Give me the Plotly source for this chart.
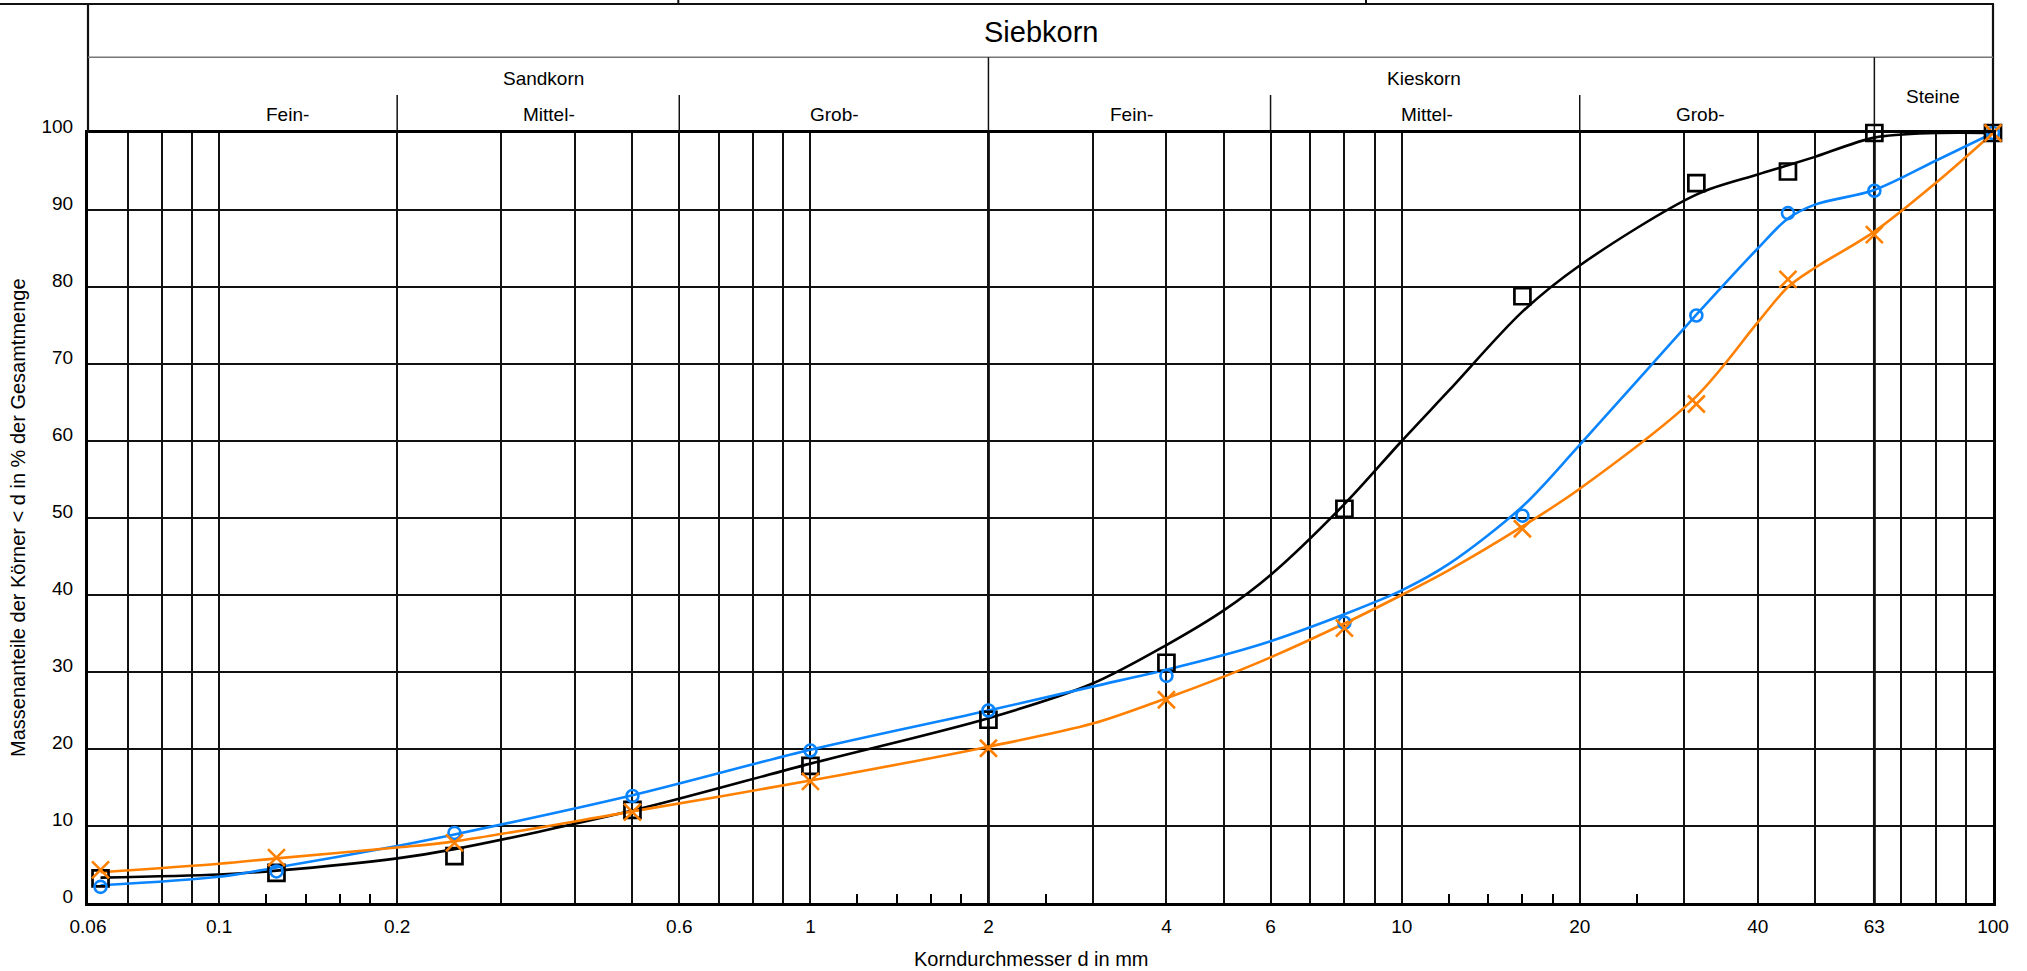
import plotly.graph_objects as go

# ---------------- data ----------------
SIEVE_D = [0.063, 0.125, 0.25, 0.5, 1, 2, 4, 8, 16, 31.5, 45, 63, 100]
BLACK_PTS = [3.2, 3.9, 6.1, 12.1, 17.8, 23.8, 31.2, 51.2, 78.8, 93.5, 95.0, 100, 100]
BLUE_PTS = [2.1, 4.1, 9.1, 13.9, 19.8, 25.0, 29.5, 36.4, 50.3, 76.3, 89.6, 92.5, 100]
ORANGE_PTS = [4.3, 5.9, 7.8, 11.8, 15.8, 20.1, 26.4, 35.7, 48.6, 64.8, 81.0, 86.8, 100]

# smoothed curves
CURVE_D = [0.063, 0.1, 0.125, 0.2, 0.25, 0.5, 1, 2, 3, 4, 5, 6, 8, 10, 12, 16, 20, 31.5, 40, 45, 50, 63, 80, 100]
BLACK_CURVE = [3.3, 3.7, 4.2, 5.8, 7.0, 12.0, 18.1, 24.0, 28.5, 33.5, 38.0, 42.6, 51.8, 60.0, 66.5, 76.8, 82.8, 92.0, 94.6, 95.8, 96.9, 99.4, 100, 100]
BLUE_CURVE = [2.3, 3.4, 4.6, 7.4, 8.9, 14.0, 19.9, 25.0, 28.1, 30.3, 32.2, 34.0, 37.5, 40.6, 44.0, 51.5, 59.5, 76.4, 85.0, 88.9, 90.7, 92.6, 96.4, 100]
ORANGE_CURVE = [4.0, 5.1, 5.8, 7.2, 8.0, 11.9, 15.9, 20.3, 23.3, 26.6, 29.4, 31.9, 36.3, 40.0, 43.2, 48.9, 53.8, 65.8, 75.4, 80.0, 82.5, 87.2, 93.5, 100]

X_TICKS = [0.06, 0.1, 0.2, 0.6, 1, 2, 4, 6, 10, 20, 40, 63, 100]
X_TICK_TEXT = ["0.06", "0.1", "0.2", "0.6", "1", "2", "4", "6", "10", "20", "40", "63", "100"]
X_MINOR_GRID = [0.07, 0.08, 0.09, 0.3, 0.4, 0.5, 0.7, 0.8, 0.9, 3, 5, 7, 8, 9, 30, 50, 70, 80, 90]
X_SMALL_TICKS = [0.12, 0.14, 0.16, 0.18, 1.2, 1.4, 1.6, 1.8, 2.5, 12, 14, 16, 18, 25]
THICK_LINES = [2, 63]

HEADER_MAIN = "Siebkorn"
HEADER_GROUPS = [("Sandkorn", 543), ("Kieskorn", 1424)]
HEADER_SUB = [("Fein-", 287), ("Mittel-", 549), ("Grob-", 834),
              ("Fein-", 1131), ("Mittel-", 1427), ("Grob-", 1700)]
GROUP_DIVIDERS = [2, 63]
SUB_DIVIDERS = [0.2, 0.6, 6, 20]

X_TITLE = "Korndurchmesser d in mm"
Y_TITLE = "Massenanteile der Körner < d in % der Gesamtmenge"

BLACK = "#000000"
BLUE = "#0A84FF"
ORANGE = "#FF8000"
FONT = "Liberation Sans, Arial, sans-serif"

# ---------------- layout geometry ----------------
WIDTH, HEIGHT = 2027, 971
ML, MR, MT, MB = 88, 34, 133, 68
PW = WIDTH - ML - MR
PH = HEIGHT - MT - MB


def px_x(X):
    return (X - ML) / PW


def px_y(Y):
    return (MT + PH - Y) / PH


fig = go.Figure()

for d, vals, col in [(CURVE_D, BLACK_CURVE, BLACK), (CURVE_D, BLUE_CURVE, BLUE), (CURVE_D, ORANGE_CURVE, ORANGE)]:
    fig.add_trace(go.Scatter(x=d, y=vals, mode="lines",
                             line=dict(color=col, width=2.6, shape="spline", smoothing=0.9),
                             hoverinfo="skip", showlegend=False))

fig.add_trace(go.Scatter(x=SIEVE_D, y=BLACK_PTS, mode="markers", cliponaxis=False,
                         marker=dict(symbol="square-open", size=16, color=BLACK,
                                     line=dict(width=2.7, color=BLACK)),
                         showlegend=False))
fig.add_trace(go.Scatter(x=SIEVE_D, y=BLUE_PTS, mode="markers", cliponaxis=False,
                         marker=dict(symbol="circle-open", size=12, color=BLUE,
                                     line=dict(width=2.6, color=BLUE)),
                         showlegend=False))
fig.add_trace(go.Scatter(x=SIEVE_D, y=ORANGE_PTS, mode="markers", cliponaxis=False,
                         marker=dict(symbol="x-thin-open", size=17, color=ORANGE,
                                     line=dict(width=2.6, color=ORANGE)),
                         showlegend=False))

# empty trace so the small-tick axis exists
fig.add_trace(go.Scatter(x=[], y=[], xaxis="x2", yaxis="y", showlegend=False, hoverinfo="skip"))

shapes = []
for v in THICK_LINES:
    shapes.append(dict(type="line", xref="x", yref="paper", x0=v, x1=v, y0=0, y1=1,
                       line=dict(color=BLACK, width=2.8), layer="below"))
# header frame
shapes.append(dict(type="line", xref="paper", yref="paper", x0=px_x(0), x1=px_x(1994),
                   y0=px_y(4), y1=px_y(4), line=dict(color="#111", width=2)))
for X in (678.3, 1366):
    shapes.append(dict(type="line", xref="paper", yref="paper", x0=px_x(X), x1=px_x(X),
                       y0=px_y(0), y1=px_y(4), line=dict(color="#111", width=2)))
for X in (ML, ML + PW):
    shapes.append(dict(type="line", xref="paper", yref="paper", x0=px_x(X), x1=px_x(X),
                       y0=px_y(4), y1=1, line=dict(color="#111", width=2.2)))
shapes.append(dict(type="line", xref="paper", yref="paper", x0=0, x1=1,
                   y0=px_y(57.3), y1=px_y(57.3), line=dict(color="#777", width=1.6)))
for v in GROUP_DIVIDERS:
    shapes.append(dict(type="line", xref="x", yref="paper", x0=v, x1=v,
                       y0=px_y(57.3), y1=1, line=dict(color="#111", width=1.5)))
for v in SUB_DIVIDERS:
    shapes.append(dict(type="line", xref="x", yref="paper", x0=v, x1=v,
                       y0=px_y(95), y1=1, line=dict(color="#111", width=1.5)))

annotations = []
annotations.append(dict(text=HEADER_MAIN, xref="paper", yref="paper", x=px_x(1040.5), y=px_y(32),
                        showarrow=False, font=dict(size=29, color="#000", family=FONT),
                        xanchor="center", yanchor="middle"))
for t, X in HEADER_GROUPS:
    annotations.append(dict(text=t, xref="paper", yref="paper", x=px_x(X), y=px_y(78),
                            showarrow=False, font=dict(size=19, color="#000", family=FONT),
                            xanchor="center", yanchor="middle"))
for t, X in HEADER_SUB:
    annotations.append(dict(text=t, xref="paper", yref="paper", x=px_x(X), y=px_y(114.5),
                            showarrow=False, font=dict(size=19, color="#000", family=FONT),
                            xanchor="center", yanchor="middle"))
annotations.append(dict(text="Steine", xref="paper", yref="paper", x=px_x(1933), y=px_y(96.7),
                        showarrow=False, font=dict(size=19, color="#000", family=FONT),
                        xanchor="center", yanchor="middle"))
annotations.append(dict(text=X_TITLE, xref="paper", yref="paper", x=px_x(1031), y=px_y(959),
                        showarrow=False, font=dict(size=20, color="#000", family=FONT),
                        xanchor="center", yanchor="middle"))
annotations.append(dict(text=Y_TITLE, xref="paper", yref="paper", x=px_x(18), y=px_y(518),
                        showarrow=False, textangle=-90, font=dict(size=20, color="#000", family=FONT),
                        xanchor="center", yanchor="middle"))

GRID = "#111111"
fig.update_layout(
    width=WIDTH, height=HEIGHT,
    margin=dict(l=ML, r=MR, t=MT, b=MB, pad=0),
    paper_bgcolor="white", plot_bgcolor="white",
    font=dict(family=FONT, size=19, color="#000"),
    showlegend=False,
    shapes=shapes,
    annotations=annotations,
    xaxis=dict(type="log", range=[-1.22185, 2.0], tickmode="array",
               tickvals=X_TICKS, ticktext=X_TICK_TEXT, ticks="",
               showgrid=True, gridcolor=GRID, gridwidth=1.5,
               minor=dict(tickmode="array", tickvals=X_MINOR_GRID, showgrid=True,
                          gridcolor=GRID, gridwidth=1.5, ticks=""),
               showline=True, linecolor="#000", linewidth=3, mirror=True,
               zeroline=False, tickfont=dict(size=19), ticklabelstandoff=4),
    xaxis2=dict(type="log", range=[-1.22185, 2.0], overlaying="x", anchor="y", side="bottom",
                tickmode="array", tickvals=X_SMALL_TICKS, ticks="inside", ticklen=9,
                tickwidth=1.6, tickcolor="#000", showticklabels=False, showgrid=False,
                showline=False, zeroline=False),
    yaxis=dict(range=[0, 100], tickmode="array", tickvals=list(range(0, 101, 10)),
               ticks="", showgrid=True, gridcolor=GRID, gridwidth=1.5,
               showline=True, linecolor="#000", linewidth=3, mirror=True,
               zeroline=False, tickfont=dict(size=19), ticklabelshift=-7, ticklabelstandoff=8),
)

fig.write_html("out.html", config={"displayModeBar": False},
               post_script="document.body.style.margin='0px';")
